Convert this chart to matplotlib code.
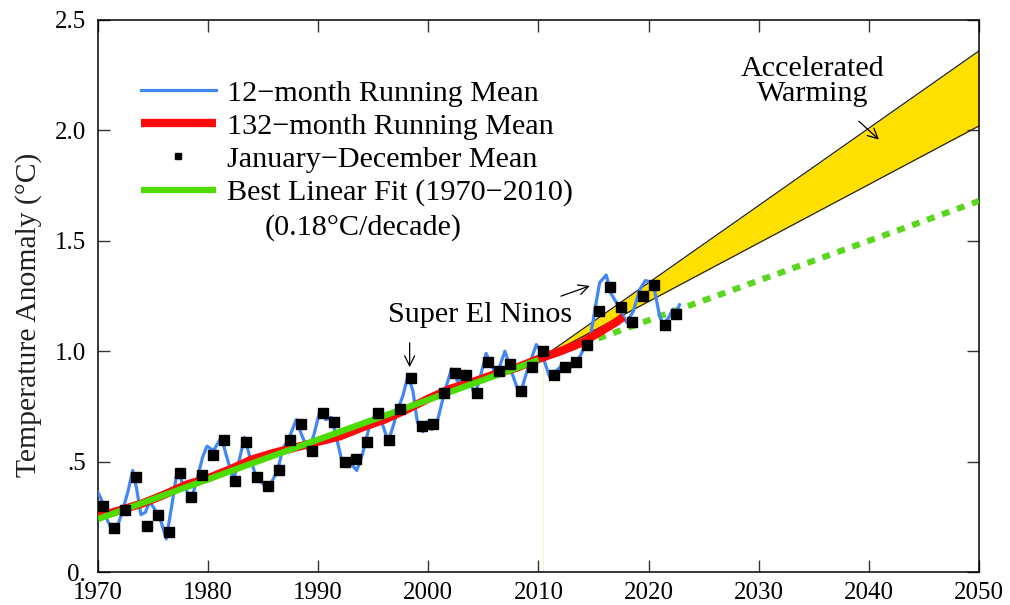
import numpy as np
import matplotlib
matplotlib.use('Agg')
import matplotlib.pyplot as plt

plt.rcParams['font.family'] = ['Liberation Serif', 'DejaVu Serif']

# annual (January-December) means
years = list(range(1970, 2023))
annual = [0.30, 0.20, 0.28, 0.43, 0.21, 0.26, 0.18, 0.45, 0.34, 0.44,
          0.53, 0.60, 0.41, 0.59, 0.43, 0.39, 0.46, 0.60, 0.67, 0.55,
          0.72, 0.68, 0.50, 0.51, 0.59, 0.72, 0.60, 0.74, 0.88, 0.66,
          0.67, 0.81, 0.90, 0.89, 0.81, 0.95, 0.91, 0.94, 0.82, 0.93,
          1.00, 0.89, 0.93, 0.95, 1.03, 1.18, 1.29, 1.20, 1.13, 1.25,
          1.30, 1.12, 1.17]

# 12-month running mean (read at turning points)
run12_t = [1970.0, 1970.3, 1970.8, 1971.4, 1971.8, 1972.3, 1972.7, 1973.15, 1973.5, 1973.9,
           1974.3, 1974.7, 1975.2, 1975.65, 1976.2, 1976.7, 1977.2, 1977.7, 1978.45, 1978.9,
           1979.5, 1979.9, 1980.5, 1981.2, 1981.7, 1982.3, 1982.8, 1983.3, 1983.8, 1984.3,
           1984.8, 1985.3, 1985.7, 1986.3, 1986.8, 1987.3, 1988.0, 1988.5, 1989.1, 1989.6,
           1990.15, 1990.7, 1991.2, 1991.7, 1992.25, 1992.8, 1993.5, 1994.0, 1994.6, 1995.3,
           1995.9, 1996.35, 1996.8, 1997.25, 1997.7, 1998.15, 1998.6, 1999.0, 1999.5, 1999.9,
           2000.3, 2000.8, 2001.5, 2002.1, 2002.7, 2003.3, 2003.8, 2004.2, 2004.7, 2005.25,
           2005.7, 2006.2, 2006.95, 2007.6, 2008.3, 2008.9, 2009.8, 2010.3, 2011.0, 2011.6,
           2012.2, 2012.8, 2013.6, 2014.2, 2014.7, 2015.1, 2015.55, 2016.15, 2016.6, 2017.2,
           2018.0, 2018.6, 2019.2, 2019.7, 2020.4, 2021.0, 2021.3, 2021.8, 2022.2, 2022.5,
           2022.8]
run12_v = [0.36, 0.33, 0.24, 0.18, 0.21, 0.29, 0.36, 0.46, 0.38, 0.26,
           0.27, 0.32, 0.28, 0.24, 0.15, 0.30, 0.46, 0.40, 0.33, 0.40,
           0.52, 0.57, 0.55, 0.61, 0.52, 0.42, 0.50, 0.61, 0.52, 0.44,
           0.41, 0.38, 0.40, 0.46, 0.56, 0.60, 0.69, 0.62, 0.55, 0.62,
           0.73, 0.69, 0.70, 0.60, 0.48, 0.50, 0.46, 0.53, 0.65, 0.73,
           0.66, 0.59, 0.66, 0.74, 0.80, 0.89, 0.82, 0.68, 0.635, 0.68,
           0.645, 0.68, 0.82, 0.92, 0.86, 0.91, 0.86, 0.80, 0.88, 0.99,
           0.94, 0.89, 1.00, 0.90, 0.80, 0.90, 1.03, 0.99, 0.885, 0.91,
           0.94, 0.92, 0.96, 1.02, 1.06, 1.18, 1.31, 1.345, 1.26, 1.21,
           1.13, 1.18, 1.28, 1.32, 1.31, 1.16, 1.12, 1.15, 1.19, 1.17,
           1.21]

# 132-month running mean
run132_t = [1970, 1972, 1974, 1976, 1978, 1980, 1982, 1984, 1986, 1988,
            1990, 1992, 1994, 1996, 1998, 2000, 2002, 2004, 2006, 2008,
            2010, 2012, 2014, 2016, 2017, 2017.7]
run132_v = [0.25, 0.28, 0.31, 0.35, 0.395, 0.425, 0.465, 0.51, 0.54, 0.565,
            0.59, 0.615, 0.655, 0.69, 0.735, 0.785, 0.83, 0.86, 0.895, 0.925,
            0.965, 1.00, 1.04, 1.10, 1.13, 1.155]

# best linear fit 1970-2010 and its extension
fit_start, fit_end, proj_end = 1970, 2010, 2050
fit_v0, fit_rate = 0.24, 0.018   # degC per year

# accelerated warming wedge (values at 2010 and 2050)
wedge_t = [2010, 2050]
wedge_upper = [0.96, 2.36]
wedge_lower = [0.96, 2.02]

xticks = [1970, 1980, 1990, 2000, 2010, 2020, 2030, 2040, 2050]
yticks = [0.0, 0.5, 1.0, 1.5, 2.0, 2.5]
ytick_labels = ['0.', '.5', '1.0', '1.5', '2.0', '2.5']

fig = plt.figure(figsize=(10.1, 6.05), dpi=100)
ax = fig.add_axes([0.097, 0.0545, 0.8723, 0.9125])

blue = '#4287f5'
red = '#ff0a0a'
green = '#4cdc00'
fs = 21.7

ax.fill_between(wedge_t, wedge_lower, wedge_upper, color='#ffe000', lw=0, zorder=1)
ax.plot(wedge_t, wedge_upper, color='#222222', lw=0.9, zorder=2)
ax.plot(wedge_t, wedge_lower, color='#222222', lw=0.9, zorder=2)

# faint marker line at the end of the fit period
ax.plot([2010.4, 2010.4], [0, fit_v0 + fit_rate * 40.4], color='#fff0c8', lw=0.8, zorder=1)

t_proj = np.array([fit_end, proj_end])
ax.plot(t_proj, fit_v0 + fit_rate * (t_proj - fit_start), color='#5ad61e', lw=4.4,
        linestyle=(0, (1.3, 1.3)), zorder=3)

ax.plot(run12_t, run12_v, color=blue, lw=2.3, solid_joinstyle='round', zorder=4,
        label='12\u2212month Running Mean')
ax.plot(run132_t, run132_v, color=red, lw=6, solid_capstyle='butt', zorder=5,
        label='132\u2212month Running Mean')
ax.plot([], [], 's', color='black', ms=5, label='January\u2212December Mean')
t_fit = np.array([fit_start, fit_end])
ax.plot(t_fit, fit_v0 + fit_rate * (t_fit - fit_start), color=green, lw=4.5,
        solid_capstyle='butt', zorder=6, label='Best Linear Fit (1970\u22122010)')
ax.plot(np.array(years) + 0.45, annual, 's', color='black', ms=7, zorder=7)

ax.legend(loc='upper left', bbox_to_anchor=(0.0485, 0.892), frameon=False,
          fontsize=fs, handlelength=2.5, handletextpad=0.35, labelspacing=0.2,
          borderpad=0, borderaxespad=0)
ax.text(1985.15, 1.558, '(0.18\u00b0C/decade)', fontsize=fs, va='center', ha='left')

ax.text(2004.66, 1.165, 'Super El Ninos', fontsize=fs, ha='center', va='center')
ax.annotate('', xy=(1998.3, 0.915), xytext=(1998.3, 1.05),
            arrowprops=dict(arrowstyle='->', color='black', lw=0.9, mutation_scale=18))
ax.annotate('', xy=(2014.9, 1.30), xytext=(2011.8, 1.245),
            arrowprops=dict(arrowstyle='->', color='black', lw=0.9, mutation_scale=18))
ax.text(2034.9, 2.22, 'Accelerated\nWarming', fontsize=fs, ha='center', va='center',
        linespacing=0.95)
ax.annotate('', xy=(2041.1, 1.95), xytext=(2038.9, 2.05),
            arrowprops=dict(arrowstyle='->', color='black', lw=0.9, mutation_scale=18))

ax.set_xlim(1970, 2050)
ax.set_ylim(0, 2.5)
ax.set_xticks(xticks)
ax.set_yticks(yticks)
ax.set_yticklabels(ytick_labels)
ax.tick_params(axis='both', direction='in', top=True, right=True, labelsize=18,
               length=8.6, width=1, color='#333333')
ax.tick_params(axis='x', pad=7)
ax.tick_params(axis='y', pad=8.5)
ax.set_ylabel('Temperature Anomaly (\u00b0C)', fontsize=21.3, color='#202020')
ax.yaxis.set_label_coords(-0.0636, 0.465)
for s in ax.spines.values():
    s.set_linewidth(1.1)

fig.savefig('out.png', dpi=100)
